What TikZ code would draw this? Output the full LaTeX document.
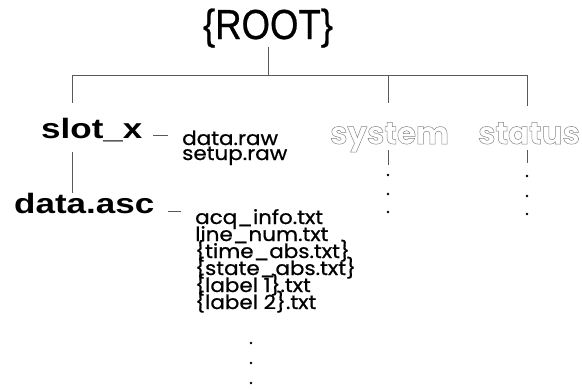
\documentclass[tikz,border=0pt]{standalone}
\usepackage{fontspec}
\newfontfamily\rootfont[FakeStretch=0.87,FakeBold=0.6]{Liberation Sans}
\newfontfamily\bigfont[FakeStretch=1.25]{Liberation Sans Bold}
\newfontfamily\filefont[FakeStretch=1.1,FakeBold=0.8]{Poppins}
\newfontfamily\geofont{Poppins}
\newcommand\outlineon{\special{pdf:literal direct 1 Tr 0.5 w}}
\newcommand\outlineoff{\special{pdf:literal direct 0 Tr}}
\begin{document}
\begin{tikzpicture}[x=1pt,y=-1pt,
  lbl/.style={inner sep=0pt,anchor=base west},
  big/.style={lbl,font=\bigfont\fontsize{28}{28}\selectfont},
  file/.style={lbl,text height=11pt,text depth=3pt,font=\filefont\fontsize{19.5}{16}\selectfont},
  ghost/.style={lbl,text=black!48,font=\geofont\bfseries\fontsize{31}{31}\selectfont},
  conn/.style={draw=black!65,line width=0.7pt},
  dotn/.style={circle,fill=black,draw=none,inner sep=0pt,minimum size=2.6pt}]
\useasboundingbox (0,0) rectangle (582,389);
% labels
\node[inner sep=0pt,anchor=base,font=\rootfont\fontsize{42}{42}\selectfont] (root) at (268,39) {\{ROOT\}};
\node[big] (slotx) at (41,138) {slot\_x};
\node[big] (dataasc) at (14,213) {data.asc};
\node[ghost] (system) at (330,144) {\outlineon system\outlineoff};
\node[ghost] (status) at (478,144) {\outlineon status\outlineoff};
\node[file] (raw1) at (182,145) {data.raw};
\node[file] (raw2) at (182,160) {setup.raw};
\node[file] (f1) at (195,224) {acq\_info.txt};
\node[file] (f2) at (195,241) {line\_num.txt};
\node[file] (f3) at (195,258) {\{time\_abs.txt\}};
\node[file] (f4) at (195,275) {\{state\_abs.txt\}};
\node[file] (f5) at (195,292) {\{label 1\}.txt};
\node[file] (f6) at (195,309) {\{label 2\}.txt};
% dots
\node[dotn] (d1) at (251,343) {};
\node[dotn] (d2) at (251,363) {};
\node[dotn] (d3) at (251,383) {};
\node[dotn] (sy1) at (388,175) {};
\node[dotn] (sy2) at (388,194) {};
\node[dotn] (sy3) at (388,212) {};
\node[dotn] (st1) at (527,176) {};
\node[dotn] (st2) at (527,196) {};
\node[dotn] (st3) at (527,214) {};
% junction coordinates
\coordinate (rootbot) at (268,47);
\coordinate (rootj) at (268,75);
\coordinate (hl) at (72,75);
\coordinate (hs) at (388,75);
\coordinate (hr) at (527,75);
\coordinate (slottop) at (72,103);
\coordinate (systop) at (388,103);
\coordinate (sttop) at (527,106);
\coordinate (slotbot) at (72,152);
\coordinate (asctop) at (72,193);
\coordinate (sybot) at (388,150);
\coordinate (sydot) at (388,165);
\coordinate (stbot) at (527,150);
\coordinate (stdot) at (527,163);
\coordinate (da) at (153,135);
\coordinate (db) at (168,135);
\coordinate (ea) at (168,211);
\coordinate (eb) at (181,211);
% connectors
\draw[conn] (rootbot) -- (rootj);
\draw[conn] (hl) -- (hr);
\draw[conn] (hl) -- (slottop);
\draw[conn] (hs) -- (systop);
\draw[conn] (hr) -- (sttop);
\draw[conn] (slotbot) -- (asctop);
\draw[conn] (sybot) -- (sydot);
\draw[conn] (stbot) -- (stdot);
\draw[conn] (da) -- (db);
\draw[conn] (ea) -- (eb);
\end{tikzpicture}
\end{document}
